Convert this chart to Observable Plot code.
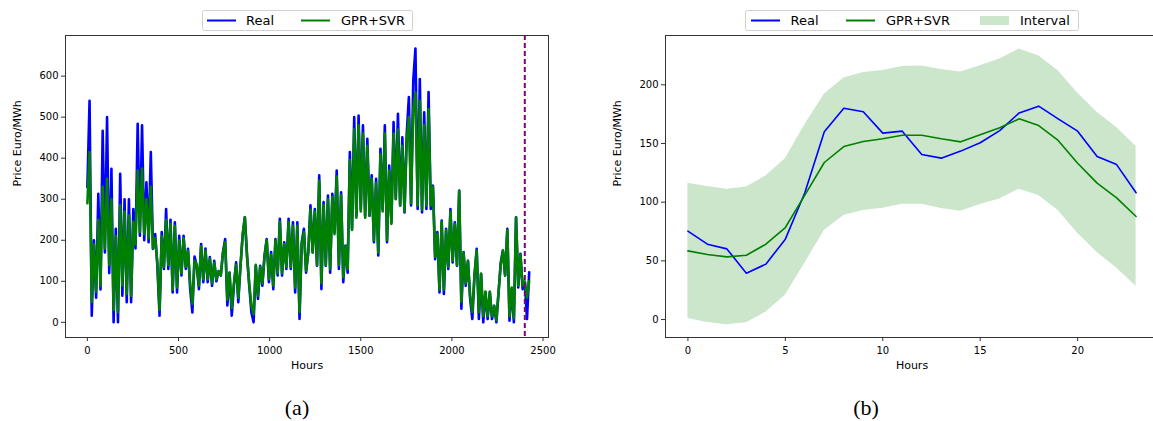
<!DOCTYPE html>
<html>
<head>
<meta charset="utf-8">
<script src="https://cdn.jsdelivr.net/npm/d3@7"></script>
<script src="https://cdn.jsdelivr.net/npm/@observablehq/plot@0.6"></script>
<style>
  html, body { margin: 0; padding: 0; background: #fff; }
  #page { position: relative; width: 1153px; height: 421px; overflow: hidden; font-family: "DejaVu Sans", sans-serif; }
  .panel { position: absolute; top: 0; }
  .caption { position: absolute; top: 397px; font-family: "Liberation Serif", serif; font-size: 22px; line-height: 22px; transform: translateX(-50%); color: #000; }
</style>
</head>
<body>
<div id="page"></div>
<script>
// ---- Panel (a): hourly price over the whole test period, sampled every 12 h ----
const stepHours = 12;
const realA = [
  330, 540, 16, 200, 60, 313, 80, 467, 170, 500,
  120, 374, 0, 228, 0, 362, 65, 300, 49, 300,
  49, 276, 180, 484, 211, 480, 200, 341, 195, 415,
  179, 215, 138, 16, 220, 130, 276, 130, 250, 73,
  244, 73, 211, 114, 211, 130, 179, 81, 24, 160,
  138, 81, 191, 98, 180, 98, 159, 89, 150, 100,
  125, 114, 171, 203, 41, 121, 16, 89, 146, 49,
  138, 211, 256, 163, 90, 24, 0, 138, 57, 138,
  89, 163, 203, 98, 171, 81, 203, 114, 252, 114,
  195, 130, 252, 130, 244, 73, 244, 8, 195, 228,
  121, 171, 285, 171, 276, 138, 358, 81, 293, 138,
  309, 121, 313, 220, 370, 130, 317, 98, 187, 121,
  415, 228, 500, 260, 504, 276, 480, 260, 447, 260,
  358, 195, 350, 163, 423, 276, 480, 195, 382, 244,
  488, 301, 508, 285, 451, 268, 459, 549, 285, 589,
  667, 276, 593, 268, 512, 276, 561, 276, 333, 154,
  220, 73, 248, 69, 228, 130, 276, 146, 244, 138,
  321, 33, 171, 89, 150, 57, 8, 114, 179, 8,
  118, 0, 73, 8, 73, 8, 40, 0, 73, 146,
  175, 114, 228, 4, 81, 0, 256, 85, 167, 81,
  98, 8, 122
];
const predA = [
  290, 415, 50, 190, 75, 250, 90, 330, 180, 350,
  140, 300, 30, 210, 25, 285, 90, 270, 70, 260,
  65, 245, 190, 370, 220, 375, 215, 300, 205, 330,
  180, 205, 145, 30, 210, 135, 250, 140, 240, 80,
  235, 85, 200, 120, 205, 135, 175, 95, 45, 150,
  140, 90, 185, 105, 175, 105, 155, 95, 145, 105,
  125, 115, 170, 195, 55, 120, 35, 95, 140, 60,
  135, 215, 256, 160, 95, 40, 20, 140, 65, 135,
  95, 160, 200, 105, 165, 90, 200, 120, 245, 120,
  190, 135, 245, 135, 235, 85, 235, 25, 190, 220,
  125, 170, 275, 170, 270, 140, 345, 95, 285, 140,
  300, 130, 305, 215, 355, 140, 310, 110, 185, 130,
  395, 225, 470, 255, 480, 270, 460, 255, 430, 260,
  350, 200, 340, 170, 410, 270, 460, 200, 370, 240,
  460, 300, 470, 285, 430, 270, 440, 500, 290, 520,
  560, 285, 540, 275, 480, 285, 520, 285, 330, 160,
  215, 80, 245, 80, 225, 135, 270, 150, 240, 140,
  320, 50, 170, 95, 150, 65, 25, 115, 175, 25,
  118, 15, 75, 15, 75, 15, 40, 5, 75, 140,
  175, 115, 225, 15, 85, 10, 256, 90, 165, 90,
  100, 60, 100
];
const cutoffHour = 2400;
const hourTicksA = [0, 500, 1000, 1500, 2000, 2500];
const priceTicksA = [0, 100, 200, 300, 400, 500, 600];

// ---- Panel (b): one forecast day with its prediction interval ----
const hoursB = [0, 1, 2, 3, 4, 5, 6, 7, 8, 9, 10, 11, 12, 13, 14, 15, 16, 17, 18, 19, 20, 21, 22, 23];
const realB = [75.3, 64.2, 60.2, 39.5, 47.2, 68.5, 108, 160, 180, 177, 158.8, 160.5, 140.6, 137.5, 143.5, 150.6, 161, 176, 181.8, 171, 160.5, 139, 132, 108];
const predB = [58.5, 55.4, 53.4, 54.8, 64.2, 78.4, 106, 133.8, 147.4, 151.7, 154, 157, 157, 154, 151.4, 157.4, 163.4, 171, 165.3, 152.6, 133.2, 116.2, 103.7, 87.8];
const upperB = [116.2, 113.4, 111, 113, 122.4, 137, 166, 192, 205.7, 210.5, 212.2, 215.6, 216, 213, 210.8, 216.2, 222, 230.4, 224.7, 212, 193, 176.7, 163.6, 147.7];
const lowerB = [0.9, -2.5, -4.5, -2.8, 6.2, 20.7, 48, 75.9, 88.6, 92.9, 94.9, 98.3, 98.3, 94.6, 92.3, 98, 102.8, 111, 105.7, 92.9, 73.6, 57.1, 44, 28.4];
const hourTicksB = [0, 5, 10, 15, 20];
const priceTicksB = [0, 50, 100, 150, 200];

const seriesA = realA.map((v, i) => ({hour: i * stepHours, real: v, pred: predA[i]}));
const seriesB = hoursB.map((h, i) => ({hour: h, real: realB[i], pred: predB[i], lower: lowerB[i], upper: upperB[i]}));

const fmt = d => String(d);
const common = {
  width: 560, height: 380, marginTop: 35, marginBottom: 43, marginLeft: 65,
  style: {fontFamily: "DejaVu Sans", fontSize: "10px", background: "transparent", color: "#000", overflow: "visible"}
};
function axisMarks(xt, yt) {
  return [
    Plot.axisX({ticks: xt, tickFormat: fmt, tickSize: 4, tickPadding: 5, label: null, stroke: "#333"}),
    Plot.axisY({ticks: yt, tickFormat: fmt, tickSize: 4, tickPadding: 3, label: null, stroke: "#333"}),
    Plot.text(["Hours"], {frameAnchor: "bottom", dy: 31, text: d => d, fontSize: 11}),
    Plot.text(["Price Euro/MWh"], {frameAnchor: "left", dx: -48, rotate: -90, text: d => d, fontSize: 11})
  ];
}

const svgA = Plot.plot({
  ...common,
  marginRight: 12,
  x: {domain: [-120, 2530]},
  y: {domain: [-37, 699]},
  marks: [
    Plot.lineY(seriesA, {x: "hour", y: "real", stroke: "blue", strokeWidth: 2.6, strokeLinejoin: "round"}),
    Plot.lineY(seriesA, {x: "hour", y: "pred", stroke: "green", strokeWidth: 2.6, strokeLinejoin: "round"}),
    Plot.ruleX([cutoffHour], {stroke: "purple", strokeWidth: 2, strokeDasharray: "5,3"}),
    Plot.frame({stroke: "#333"}),
    ...axisMarks(hourTicksA, priceTicksA)
  ]
});

const svgB = Plot.plot({
  ...common,
  marginRight: 2,
  x: {domain: [-1.15, 24.15]},
  y: {domain: [-15.3, 242]},
  marks: [
    Plot.areaY(seriesB, {x: "hour", y1: "lower", y2: "upper", fill: "green", fillOpacity: 0.2}),
    Plot.lineY(seriesB, {x: "hour", y: "real", stroke: "blue", strokeWidth: 1.6}),
    Plot.lineY(seriesB, {x: "hour", y: "pred", stroke: "green", strokeWidth: 1.6}),
    Plot.frame({stroke: "#333"}),
    ...axisMarks(hourTicksB, priceTicksB)
  ]
});

// Legend boxes drawn above each plot area
function addLegend(svg, box, items) {
  const g = d3.select(svg).append("g")
    .attr("font-family", "DejaVu Sans").attr("font-size", 13).attr("text-anchor", "start");
  g.append("rect").attr("x", box.x).attr("y", box.y).attr("width", box.w).attr("height", box.h)
    .attr("rx", 2).attr("fill", "#fff").attr("stroke", "#d0d0d0");
  const cy = box.y + box.h / 2;
  for (const it of items) {
    if (it.kind === "line") {
      g.append("line").attr("x1", it.x0).attr("x2", it.x0 + 29).attr("y1", cy).attr("y2", cy)
        .attr("stroke", it.color).attr("stroke-width", 2);
    } else {
      g.append("rect").attr("x", it.x0).attr("y", cy - 4.5).attr("width", 29).attr("height", 9)
        .attr("fill", it.color).attr("fill-opacity", 0.2);
    }
    g.append("text").attr("x", it.tx).attr("y", cy).attr("dy", "0.36em")
      .attr("text-anchor", "start").attr("fill", "#000").text(it.label);
  }
}
addLegend(svgA, {x: 202.5, y: 10.5, w: 210, h: 20}, [
  {kind: "line", color: "blue", x0: 207, tx: 246, label: "Real"},
  {kind: "line", color: "green", x0: 301, tx: 341, label: "GPR+SVR"}
]);
addLegend(svgB, {x: 145.5, y: 10.5, w: 333, h: 20}, [
  {kind: "line", color: "blue", x0: 151, tx: 190.5, label: "Real"},
  {kind: "line", color: "green", x0: 246, tx: 286, label: "GPR+SVR"},
  {kind: "patch", color: "green", x0: 380, tx: 420, label: "Interval"}
]);

const page = document.getElementById("page");
svgA.classList.add("panel"); svgA.style.left = "0px";
svgB.classList.add("panel"); svgB.style.left = "600px";
page.appendChild(svgA);
page.appendChild(svgB);

for (const [label, cx] of [["(a)", 297], ["(b)", 866]]) {
  const div = document.createElement("div");
  div.className = "caption";
  div.style.left = cx + "px";
  div.textContent = label;
  page.appendChild(div);
}
</script>
</body>
</html>
